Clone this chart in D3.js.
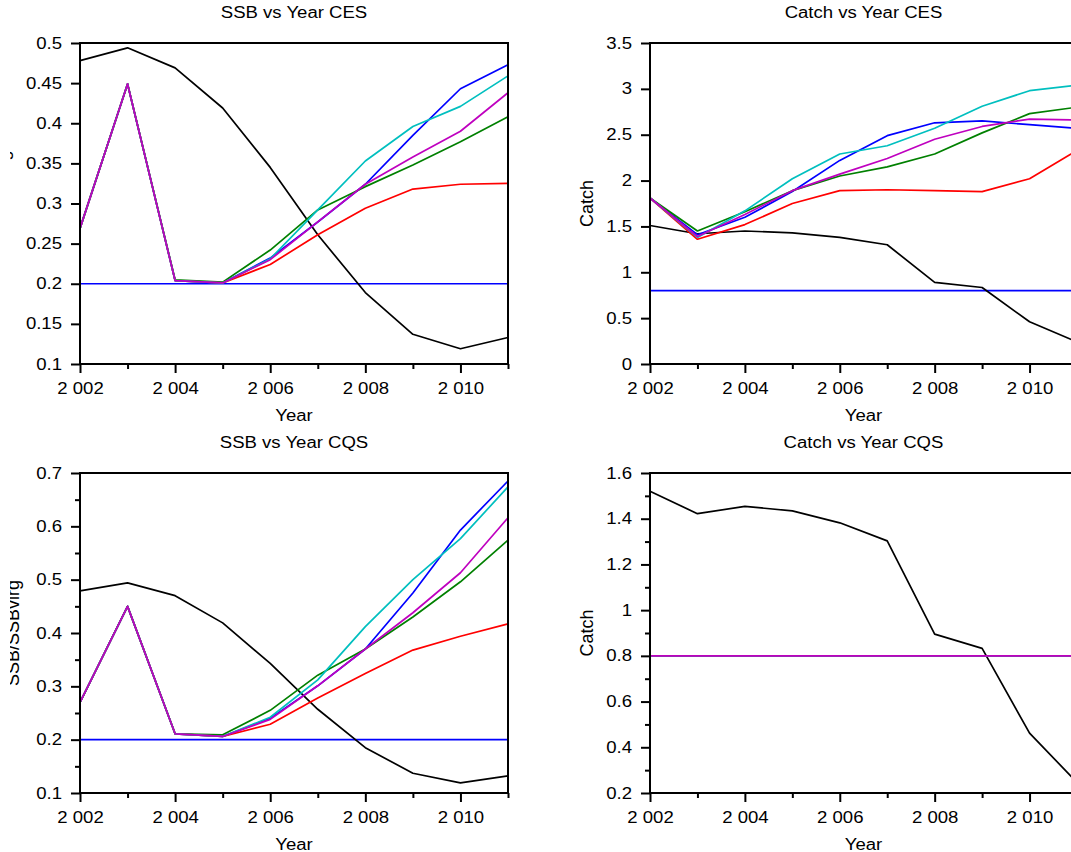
<!DOCTYPE html>
<html>
<head>
<meta charset="utf-8">
<script src="https://cdn.jsdelivr.net/npm/d3@7"></script>
<style>
  body { margin: 0; background: #fff; }
  text { font-family: "Liberation Sans", Arial, sans-serif; fill: #000; }
</style>
</head>
<body>
<script>
const w = 1071
const h = 852
const sx = 1.16   // text in the picture is drawn a bit wide

const years = [2002, 2003, 2004, 2005, 2006, 2007, 2008, 2009, 2010, 2011]
const yearTicksMajor = [2002, 2004, 2006, 2008, 2010]
const yearTicksMinor = [2003, 2005, 2007, 2009, 2011]

// SSB vs Year CES
const ssbCesHist    = [0.478, 0.494, 0.469, 0.419, 0.345, 0.261, 0.189, 0.137, 0.119, 0.133]
const ssbCesBlue    = [0.269, 0.449, 0.204, 0.201, 0.232, 0.277, 0.324, 0.385, 0.443, 0.473]
const ssbCesGreen   = [0.269, 0.449, 0.205, 0.202, 0.242, 0.292, 0.321, 0.348, 0.377, 0.408]
const ssbCesRed     = [0.269, 0.449, 0.204, 0.201, 0.224, 0.261, 0.294, 0.318, 0.324, 0.325]
const ssbCesCyan    = [0.269, 0.449, 0.204, 0.201, 0.231, 0.292, 0.353, 0.396, 0.421, 0.459]
const ssbCesMagenta = [0.269, 0.449, 0.204, 0.201, 0.230, 0.277, 0.324, 0.358, 0.390, 0.438]

// Catch vs Year CES
const catchCesHist    = [1.51, 1.42, 1.45, 1.43, 1.38, 1.30, 0.89, 0.834, 0.46, 0.24]
const catchCesBlue    = [1.81, 1.41, 1.60, 1.88, 2.22, 2.49, 2.63, 2.65, 2.61, 2.57]
const catchCesGreen   = [1.81, 1.45, 1.66, 1.89, 2.05, 2.15, 2.29, 2.52, 2.73, 2.80]
const catchCesRed     = [1.81, 1.36, 1.52, 1.75, 1.89, 1.90, 1.89, 1.88, 2.02, 2.33]
const catchCesCyan    = [1.81, 1.38, 1.67, 2.02, 2.29, 2.38, 2.57, 2.81, 2.98, 3.04]
const catchCesMagenta = [1.81, 1.39, 1.63, 1.89, 2.07, 2.24, 2.45, 2.59, 2.67, 2.66]

// SSB vs Year CQS
const ssbCqsHist    = [0.479, 0.494, 0.470, 0.419, 0.343, 0.257, 0.185, 0.137, 0.119, 0.132]
const ssbCqsBlue    = [0.270, 0.450, 0.211, 0.206, 0.240, 0.301, 0.370, 0.475, 0.593, 0.685]
const ssbCqsGreen   = [0.270, 0.450, 0.211, 0.209, 0.255, 0.321, 0.370, 0.430, 0.496, 0.574]
const ssbCqsRed     = [0.270, 0.450, 0.211, 0.206, 0.229, 0.278, 0.324, 0.368, 0.394, 0.417]
const ssbCqsCyan    = [0.270, 0.450, 0.211, 0.206, 0.242, 0.312, 0.412, 0.500, 0.577, 0.674]
const ssbCqsMagenta = [0.270, 0.450, 0.211, 0.206, 0.238, 0.301, 0.370, 0.438, 0.513, 0.616]

// Catch vs Year CQS
const catchCqsHist  = [1.52, 1.422, 1.454, 1.434, 1.382, 1.303, 0.895, 0.833, 0.462, 0.246]
const catchCqsFixed = [0.8, 0.8, 0.8, 0.8, 0.8, 0.8, 0.8, 0.8, 0.8, 0.8]

const ssbRef = 0.2
const catchRef = 0.8

const ssbCesTicks   = [0.1, 0.15, 0.2, 0.25, 0.3, 0.35, 0.4, 0.45, 0.5]
const catchCesTicks = [0, 0.5, 1, 1.5, 2, 2.5, 3, 3.5]
const ssbCqsTicks   = [0.1, 0.2, 0.3, 0.4, 0.5, 0.6, 0.7]
const ssbCqsMinor   = [0.15, 0.25, 0.35, 0.45, 0.55, 0.65]
const catchCqsTicks = [0.2, 0.4, 0.6, 0.8, 1, 1.2, 1.4, 1.6]
const catchCqsMinor = [0.3, 0.5, 0.7, 0.9, 1.1, 1.3, 1.5]

const colors = { hist: 'black', blue: '#0000ff', green: '#008000', red: '#ff0000', cyan: '#00bfbf', magenta: '#bf00bf' }

const panels = [
  { title: 'SSB vs Year CES', ylabel: 'SSB/SSBvirg', left: 80, right: 508, top: 43, bottom: 364,
    domain: [0.1, 0.5], ticks: ssbCesTicks, minor: [], ref: ssbRef, labelX: 9,
    series: [['hist', ssbCesHist], ['blue', ssbCesBlue], ['green', ssbCesGreen], ['red', ssbCesRed], ['cyan', ssbCesCyan], ['magenta', ssbCesMagenta]] },
  { title: 'Catch vs Year CES', ylabel: 'Catch', left: 650, right: 1077, top: 43, bottom: 364,
    domain: [0, 3.5], ticks: catchCesTicks, minor: [], ref: catchRef, labelX: 593,
    series: [['hist', catchCesHist], ['blue', catchCesBlue], ['green', catchCesGreen], ['red', catchCesRed], ['cyan', catchCesCyan], ['magenta', catchCesMagenta]] },
  { title: 'SSB vs Year CQS', ylabel: 'SSB/SSBvirg', left: 80, right: 508, top: 473, bottom: 793,
    domain: [0.1, 0.7], ticks: ssbCqsTicks, minor: ssbCqsMinor, ref: ssbRef, labelX: 19,
    series: [['hist', ssbCqsHist], ['blue', ssbCqsBlue], ['green', ssbCqsGreen], ['red', ssbCqsRed], ['cyan', ssbCqsCyan], ['magenta', ssbCqsMagenta]] },
  { title: 'Catch vs Year CQS', ylabel: 'Catch', left: 650, right: 1077, top: 473, bottom: 793,
    domain: [0.2, 1.6], ticks: catchCqsTicks, minor: catchCqsMinor, ref: catchRef, labelX: 593,
    series: [['hist', catchCqsHist], ['blue', catchCqsFixed], ['green', catchCqsFixed], ['red', catchCqsFixed], ['cyan', catchCqsFixed], ['magenta', catchCqsFixed]] }
]

const svg = d3.select('body')
              .append('svg')
              .attr('width', w)
              .attr('height', h)

svg.append('defs')
   .append('clipPath')
   .attr('id', 'ylab-clip')
   .append('rect')
   .attr('x', 10).attr('y', 0).attr('width', w).attr('height', h)

const fmtYear = (d) => String(d).replace(/^(\d)(\d{3})$/, '$1 $2')
const fmtVal = (d) => String(+d.toFixed(2))

// stretch tick text sideways, keeping its anchor
const widen = (sel) => {
  sel.selectAll('text').each(function () {
    const t = d3.select(this)
    const x = +t.attr('x') || 0
    t.attr('x', x / sx).attr('transform', `scale(${sx},1)`)
  })
}

const drawPanel = (p) => {
  const g = svg.append('g')

  const xScale = d3.scaleLinear().domain([2002, 2011]).range([p.left, p.right])
  const yScale = d3.scaleLinear().domain(p.domain).range([p.bottom, p.top])

  const line = d3.line()
                 .x((d, i) => xScale(years[i]))
                 .y((d) => yScale(d))

  // reference line
  g.append('line')
   .attr('x1', xScale(years[0]))
   .attr('x2', xScale(years[years.length - 1]))
   .attr('y1', yScale(p.ref))
   .attr('y2', yScale(p.ref))
   .attr('stroke', colors.blue)
   .attr('stroke-width', 1.6)

  g.selectAll('path.series')
   .data(p.series)
   .enter()
   .append('path')
   .attr('class', 'series')
   .attr('d', (d) => line(d[1]))
   .attr('fill', 'none')
   .attr('stroke', (d) => colors[d[0]])
   .attr('stroke-width', 1.7)
   .attr('stroke-linejoin', 'round')

  // frame
  g.append('rect')
   .attr('x', p.left)
   .attr('y', p.top)
   .attr('width', p.right - p.left)
   .attr('height', p.bottom - p.top)
   .attr('fill', 'none')
   .attr('stroke', 'black')
   .attr('stroke-width', 2)

  const xMajor = d3.axisBottom(xScale).tickValues(yearTicksMajor).tickSize(9).tickPadding(10).tickSizeOuter(0).tickFormat(fmtYear)
  const xMinor = d3.axisBottom(xScale).tickValues(yearTicksMinor).tickSize(5).tickSizeOuter(0).tickFormat('')
  const yMajor = d3.axisLeft(yScale).tickValues(p.ticks).tickSize(9).tickPadding(9).tickSizeOuter(0).tickFormat(fmtVal)
  const yMinor = d3.axisLeft(yScale).tickValues(p.minor).tickSize(5).tickSizeOuter(0).tickFormat('')

  const axes = [
    g.append('g').attr('transform', `translate(0, ${p.bottom})`).call(xMinor),
    g.append('g').attr('transform', `translate(0, ${p.bottom})`).call(xMajor),
    g.append('g').attr('transform', `translate(${p.left}, 0)`).call(yMinor),
    g.append('g').attr('transform', `translate(${p.left}, 0)`).call(yMajor)
  ]
  axes.forEach((a) => {
    a.select('.domain').remove()
    a.selectAll('line').attr('stroke-width', 2)
    a.selectAll('text').attr('font-size', 16).attr('font-family', '"Liberation Sans", Arial, sans-serif')
    widen(a)
  })

  const cx = (p.left + p.right) / 2
  g.append('text')
   .attr('transform', `translate(${cx}, ${p.top - 25}) scale(${sx},1)`)
   .attr('text-anchor', 'middle')
   .attr('font-size', 16)
   .text(p.title)

  g.append('text')
   .attr('transform', `translate(${cx}, ${p.bottom + 57}) scale(${sx},1)`)
   .attr('text-anchor', 'middle')
   .attr('font-size', 16)
   .text('Year')

  g.append('g')
   .attr('clip-path', 'url(#ylab-clip)')
   .append('text')
   .attr('transform', `translate(${p.labelX}, ${(p.top + p.bottom) / 2}) rotate(-90)`)
   .attr('text-anchor', 'middle')
   .attr('font-size', 18)
   .text(p.ylabel)
}

panels.forEach(drawPanel)
</script>
</body>
</html>
